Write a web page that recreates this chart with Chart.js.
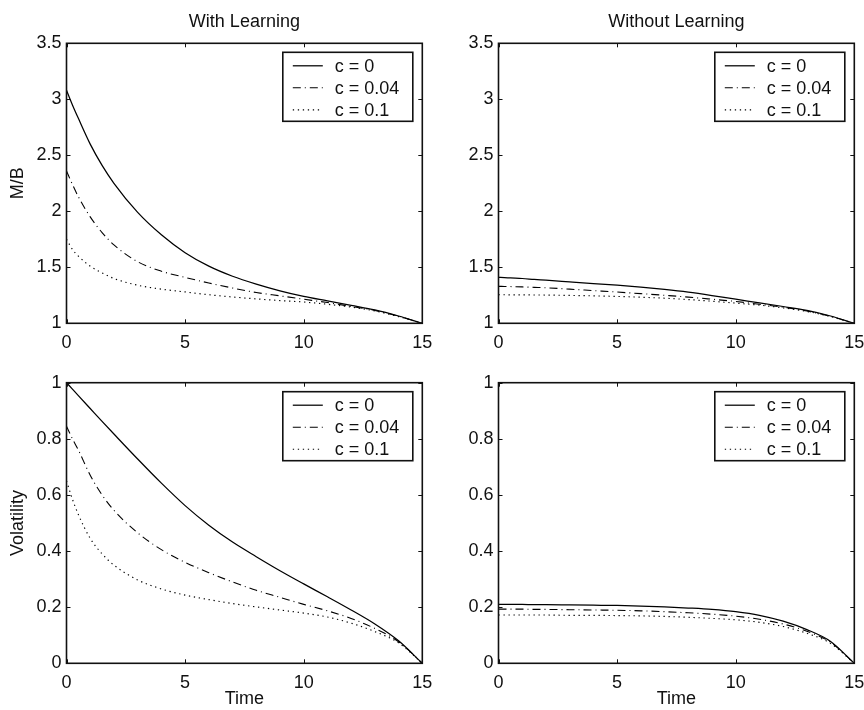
<!DOCTYPE html>
<html>
<head>
<meta charset="utf-8">
<script src="https://cdn.jsdelivr.net/npm/chart.js@4.4.0/dist/chart.umd.min.js"></script>
<style>
  html, body { margin: 0; padding: 0; background: #fff; }
  #wrap { position: relative; width: 864px; height: 710px; }
  .panel { position: absolute; width: 432px; height: 355px; }
</style>
</head>
<body>
<div id="wrap">
  <div class="panel" style="left:0;top:0"><canvas id="mbLearn" width="432" height="355"></canvas></div>
  <div class="panel" style="left:432px;top:0"><canvas id="mbNoLearn" width="432" height="355"></canvas></div>
  <div class="panel" style="left:0;top:355px"><canvas id="volLearn" width="432" height="355"></canvas></div>
  <div class="panel" style="left:432px;top:355px"><canvas id="volNoLearn" width="432" height="355"></canvas></div>
</div>
<script>
// time grid shared by every curve
const time = [0, 0.25, 0.5, 1, 1.5, 2, 3, 4, 5, 6, 7, 8, 9, 10, 11, 12, 13, 14, 15];
const seriesLabels = ['c = 0', 'c = 0.04', 'c = 0.1'];

// M/B, with learning
const mbLearnC0   = [3.08, 2.95, 2.83, 2.60, 2.41, 2.25, 1.99, 1.79, 1.63, 1.51, 1.42, 1.35, 1.29, 1.24, 1.20, 1.16, 1.12, 1.065, 1.0];
const mbLearnC04  = [2.36, 2.24, 2.13, 1.95, 1.81, 1.70, 1.55, 1.465, 1.41, 1.36, 1.315, 1.275, 1.245, 1.215, 1.185, 1.15, 1.115, 1.063, 1.0];
const mbLearnC10  = [1.75, 1.66, 1.60, 1.51, 1.45, 1.40, 1.34, 1.305, 1.28, 1.255, 1.235, 1.218, 1.203, 1.19, 1.17, 1.145, 1.11, 1.06, 1.0];

// M/B, without learning
const mbNoLearnC0  = [1.41, 1.408, 1.405, 1.40, 1.392, 1.385, 1.37, 1.355, 1.34, 1.322, 1.302, 1.278, 1.248, 1.215, 1.183, 1.15, 1.115, 1.065, 1.0];
const mbNoLearnC04 = [1.33, 1.329, 1.328, 1.325, 1.321, 1.317, 1.305, 1.292, 1.279, 1.265, 1.25, 1.234, 1.215, 1.195, 1.17, 1.143, 1.11, 1.062, 1.0];
const mbNoLearnC10 = [1.255, 1.255, 1.254, 1.254, 1.253, 1.252, 1.249, 1.245, 1.24, 1.233, 1.224, 1.212, 1.197, 1.18, 1.162, 1.138, 1.106, 1.06, 1.0];

// volatility, with learning
const volLearnC0   = [1.0, 0.977, 0.954, 0.908, 0.862, 0.817, 0.728, 0.642, 0.562, 0.492, 0.432, 0.38, 0.33, 0.283, 0.237, 0.19, 0.14, 0.08, 0];
const volLearnC04  = [0.845, 0.80, 0.76, 0.67, 0.60, 0.545, 0.465, 0.405, 0.36, 0.323, 0.29, 0.26, 0.235, 0.21, 0.187, 0.16, 0.124, 0.077, 0];
const volLearnC10  = [0.65, 0.585, 0.53, 0.445, 0.39, 0.35, 0.297, 0.265, 0.243, 0.227, 0.213, 0.201, 0.19, 0.179, 0.165, 0.143, 0.113, 0.073, 0];

// volatility, without learning
const volNoLearnC0  = [0.21, 0.21, 0.21, 0.21, 0.209, 0.209, 0.208, 0.207, 0.206, 0.204, 0.201, 0.197, 0.192, 0.184, 0.171, 0.15, 0.12, 0.078, 0];
const volNoLearnC04 = [0.193, 0.193, 0.193, 0.193, 0.192, 0.192, 0.191, 0.19, 0.189, 0.187, 0.184, 0.18, 0.175, 0.168, 0.157, 0.14, 0.114, 0.075, 0];
const volNoLearnC10 = [0.172, 0.172, 0.172, 0.172, 0.172, 0.172, 0.171, 0.171, 0.17, 0.169, 0.167, 0.164, 0.16, 0.155, 0.146, 0.131, 0.107, 0.071, 0];

const timeTicks = [0, 5, 10, 15];
const mbTicks = [1, 1.5, 2, 2.5, 3, 3.5];
const volTicks = [0, 0.2, 0.4, 0.6, 0.8, 1];

const FONT = '"Liberation Sans", Arial, Helvetica, sans-serif';
const FS = 18;
const INK = '#111';
const lineDashes = [[], [8, 4, 1, 4], [1.3, 3.7]];
const lineWidths = [1.25, 1.1, 1.15];

function dataset(i, values) {
    return {
        label: seriesLabels[i],
        data: time.map((t, k) => ({ x: t, y: values[k] })),
        borderColor: '#000',
        borderWidth: lineWidths[i],
        borderDash: lineDashes[i],
        pointRadius: 0,
        cubicInterpolationMode: 'monotone',
        fill: false
    };
}

// axes box with inward ticks on all four sides
const framePlugin = {
    id: 'frame',
    afterDraw(chart) {
        const { ctx, chartArea: a } = chart;
        const { x, y } = chart.scales;
        const tl = 4;
        ctx.save();
        ctx.strokeStyle = INK;
        ctx.lineWidth = 1;
        ctx.beginPath();
        x.ticks.forEach(t => {
            const px = Math.round(x.getPixelForValue(t.value)) + 0.5;
            ctx.moveTo(px, a.bottom); ctx.lineTo(px, a.bottom - tl);
            ctx.moveTo(px, a.top); ctx.lineTo(px, a.top + tl);
        });
        y.ticks.forEach(t => {
            const py = Math.round(y.getPixelForValue(t.value)) + 0.5;
            ctx.moveTo(a.left, py); ctx.lineTo(a.left + tl, py);
            ctx.moveTo(a.right, py); ctx.lineTo(a.right - tl, py);
        });
        ctx.stroke();
        ctx.lineWidth = 1.6;
        ctx.strokeRect(a.left, a.top, a.right - a.left, a.bottom - a.top);
        ctx.restore();
    }
};

// matlab-style boxed legend in the upper right corner
const boxLegendPlugin = {
    id: 'boxLegend',
    afterDraw(chart) {
        const { ctx, chartArea: a } = chart;
        const w = 130, h = 69;
        const left = a.right - 9.5 - w, top = a.top + 9;
        ctx.save();
        ctx.fillStyle = '#fff';
        ctx.fillRect(left, top, w, h);
        ctx.strokeStyle = INK;
        ctx.lineWidth = 1.6;
        ctx.strokeRect(left, top, w, h);
        ctx.font = FS + 'px ' + FONT;
        ctx.textBaseline = 'middle';
        ctx.fillStyle = INK;
        chart.data.datasets.forEach((ds, i) => {
            const ry = top + 13.5 + i * 22;
            ctx.beginPath();
            ctx.setLineDash(ds.borderDash);
            ctx.lineWidth = ds.borderWidth;
            ctx.strokeStyle = '#000';
            ctx.moveTo(left + 10, ry);
            ctx.lineTo(left + 40, ry);
            ctx.stroke();
            ctx.setLineDash([]);
            ctx.fillText(ds.label, left + 52, ry + 1);
        });
        ctx.restore();
    }
};

function fmt(v) {
    return String(Number(v.toFixed(2)));
}

function makeChart(id, series, cfg) {
    new Chart(document.getElementById(id), {
        type: 'line',
        data: { datasets: series.map((vals, i) => dataset(i, vals)) },
        options: {
            responsive: false,
            animation: false,
            layout: { padding: { top: cfg.title ? 0 : 27.7, right: 0, bottom: 0, left: 0 } },
            plugins: {
                legend: { display: false },
                tooltip: { enabled: false },
                title: {
                    display: !!cfg.title,
                    text: cfg.title || '',
                    fullSize: false,
                    color: INK,
                    font: { family: FONT, size: FS, weight: 'normal' },
                    padding: { top: 11, bottom: 10.7 }
                }
            },
            scales: {
                x: {
                    type: 'linear',
                    min: 0, max: 15,
                    grid: { display: false, drawTicks: false },
                    border: { display: false },
                    afterBuildTicks: s => { s.ticks = timeTicks.map(v => ({ value: v })); },
                    ticks: { color: INK, font: { family: FONT, size: FS }, padding: 9, callback: fmt, maxRotation: 0 },
                    title: {
                        display: !!cfg.xTitle,
                        text: cfg.xTitle || '',
                        color: INK,
                        font: { family: FONT, size: FS },
                        padding: { top: 0, bottom: 0 }
                    },
                    afterFit: s => {
                        s.height = cfg.xHeight;
                        s.paddingRight = 9.7;
                        s.paddingLeft = 0;
                    }
                },
                y: {
                    min: cfg.yMin, max: cfg.yMax,
                    grid: { display: false, drawTicks: false },
                    border: { display: false },
                    afterBuildTicks: s => { s.ticks = cfg.yTicks.map(v => ({ value: v })); },
                    ticks: { color: INK, font: { family: FONT, size: FS }, padding: 5, callback: fmt },
                    title: {
                        display: !!cfg.yTitle,
                        text: cfg.yTitle || '',
                        color: INK,
                        font: { family: FONT, size: FS },
                        padding: { top: 7, bottom: 0 }
                    },
                    afterFit: s => { s.width = 66.5; }
                }
            }
        },
        plugins: [framePlugin, boxLegendPlugin]
    });
}

makeChart('mbLearn', [mbLearnC0, mbLearnC04, mbLearnC10],
    { title: 'With Learning', yTitle: 'M/B', yMin: 1, yMax: 3.5, yTicks: mbTicks, xHeight: 31.7 });
makeChart('mbNoLearn', [mbNoLearnC0, mbNoLearnC04, mbNoLearnC10],
    { title: 'Without Learning', yMin: 1, yMax: 3.5, yTicks: mbTicks, xHeight: 31.7 });
makeChart('volLearn', [volLearnC0, volLearnC04, volLearnC10],
    { yTitle: 'Volatility', xTitle: 'Time', yMin: 0, yMax: 1, yTicks: volTicks, xHeight: 46.7 });
makeChart('volNoLearn', [volNoLearnC0, volNoLearnC04, volNoLearnC10],
    { xTitle: 'Time', yMin: 0, yMax: 1, yTicks: volTicks, xHeight: 46.7 });
</script>
</body>
</html>
